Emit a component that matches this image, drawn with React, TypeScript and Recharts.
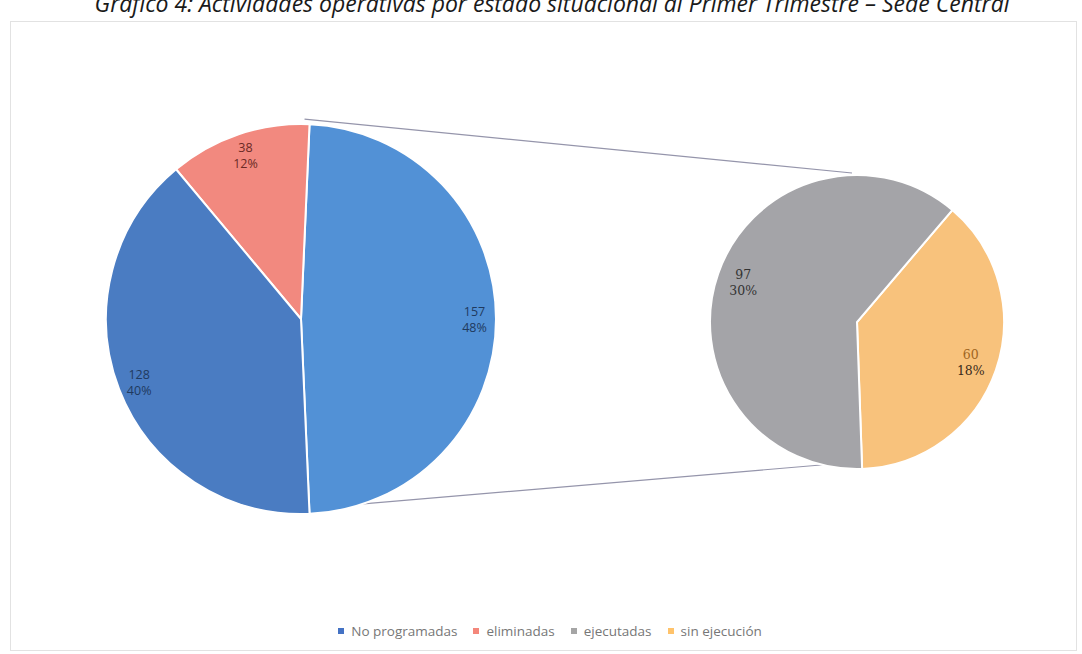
import React from "react";
import { PieChart, Pie, Cell, Legend, Customized } from "recharts";

// main pie: "other" slice first, then the two own categories
const mainNames = ["Otros", "eliminadas", "No programadas"];
const mainValues = [157, 38, 128];
const mainPct = ["48%", "12%", "40%"];

// secondary pie (breakdown of the "other" slice)
const secondNames = ["sin ejecución", "ejecutadas"];
const secondValues = [60, 97];
const secondPct = ["18%", "30%"];

const legendNames = ["No programadas", "eliminadas", "ejecutadas", "sin ejecución"];
const legendColors = ["#4472c4", "#f4877b", "#a5a5a5", "#ffc36b"];

const mainColors = ["#5291d6", "#f2897f", "#4a7cc2"];
const secondColors = ["#f8c27c", "#a4a4a8"];

const mainData = mainNames.map((name, i) => ({ name, value: mainValues[i], pct: mainPct[i] }));
const secondData = secondNames.map((name, i) => ({ name, value: secondValues[i], pct: secondPct[i] }));

const MAIN = { cx: 296, cy: 314, r: 195 };
const SECOND = { cx: 852, cy: 317, r: 147 };

const total = mainValues.reduce((a, b) => a + b, 0);
const otherAngle = (mainValues[0] / total) * 360;
const mainStart = -otherAngle / 2;
const secondStart = -88;

const RAD = Math.PI / 180;

const makeLabel = (ratio: number, fontFamily: string, colors: string[][]) => (props: any) => {
  const { cx, cy, midAngle, outerRadius, index, payload } = props;
  const rr = outerRadius * ratio;
  const x = cx + rr * Math.cos(-midAngle * RAD);
  const y = cy + rr * Math.sin(-midAngle * RAD);
  const c = colors[index] || ["#404040", "#404040"];
  return (
    <text x={x} y={y} textAnchor="middle" fontFamily={fontFamily} fontSize={12.5}>
      <tspan x={x} dy={-3} fill={c[0]}>{payload.value}</tspan>
      <tspan x={x} dy={16} fill={c[1]}>{payload.pct}</tspan>
    </text>
  );
};

const Connectors = () => {
  const a = (otherAngle / 2) * RAD;
  const top1 = { x: MAIN.cx + MAIN.r * Math.cos(a), y: MAIN.cy - MAIN.r * Math.sin(a) };
  const bot1 = { x: MAIN.cx + MAIN.r * Math.cos(a), y: MAIN.cy + MAIN.r * Math.sin(a) };
  return (
    <g>
      <line x1={top1.x} y1={top1.y} x2={SECOND.cx} y2={SECOND.cy - SECOND.r + 3} stroke="#9595ab" strokeWidth={1.2} />
      <line x1={bot1.x} y1={bot1.y} x2={SECOND.cx + 4} y2={SECOND.cy + SECOND.r - 2} stroke="#9595ab" strokeWidth={1.2} />
    </g>
  );
};

const LegendContent = () => (
  <div style={{ display: "flex", justifyContent: "center", gap: 16, fontFamily: "'Open Sans', sans-serif", fontSize: 13.5, color: "#777" }}>
    {legendNames.map((n, i) => (
      <span key={n} style={{ display: "flex", alignItems: "center" }}>
        <span style={{ width: 6, height: 6, background: legendColors[i], marginRight: 7, display: "inline-block" }} />
        {n}
      </span>
    ))}
  </div>
);

export default function App() {
  return (
    <div style={{ position: "absolute", left: 0, top: 0, width: 1082, height: 654, background: "#fff", overflow: "hidden" }}>
      <div
        style={{
          position: "absolute",
          left: 0,
          width: 1104,
          top: -12,
          lineHeight: "31px",
          textAlign: "center",
          fontFamily: "'Open Sans', sans-serif",
          fontStyle: "italic",
          fontSize: 23,
          color: "#1a1a1a",
          whiteSpace: "nowrap",
        }}
      >
        Gráfico 4: Actividades operativas por estado situacional al Primer Trimestre – Sede Central
      </div>
      <div style={{ position: "absolute", left: 10, top: 21, width: 1065, height: 628, border: "1px solid #e2e2e2" }} />
      <div style={{ position: "absolute", left: 0, top: 0 }}>
        <PieChart width={1082} height={654}>
          <Customized component={Connectors} />
          <Pie
            data={mainData}
            dataKey="value"
            cx={MAIN.cx}
            cy={MAIN.cy}
            outerRadius={MAIN.r}
            startAngle={mainStart}
            endAngle={mainStart + 360}
            stroke="#fff"
            strokeWidth={2}
            label={makeLabel(0.89, "'Open Sans', sans-serif", [["#1f3a60", "#1f3a60"], ["#6a2a25", "#6a2a25"], ["#1f3a60", "#1f3a60"]])}
            labelLine={false}
            isAnimationActive={false}
          >
            {mainData.map((d, i) => (
              <Cell key={d.name} fill={mainColors[i]} />
            ))}
          </Pie>
          <Pie
            data={secondData}
            dataKey="value"
            cx={SECOND.cx}
            cy={SECOND.cy}
            outerRadius={SECOND.r}
            startAngle={secondStart}
            endAngle={secondStart + 360}
            stroke="#fff"
            strokeWidth={2}
            label={makeLabel(0.82, "'DejaVu Serif', serif", [["#a0651f", "#3a2a1a"], ["#333333", "#333333"]])}
            labelLine={false}
            isAnimationActive={false}
          >
            {secondData.map((d, i) => (
              <Cell key={d.name} fill={secondColors[i]} />
            ))}
          </Pie>
          <Legend verticalAlign="bottom" content={LegendContent} wrapperStyle={{ bottom: 14, left: 0, width: 1100 }} />
        </PieChart>
      </div>
    </div>
  );
}
